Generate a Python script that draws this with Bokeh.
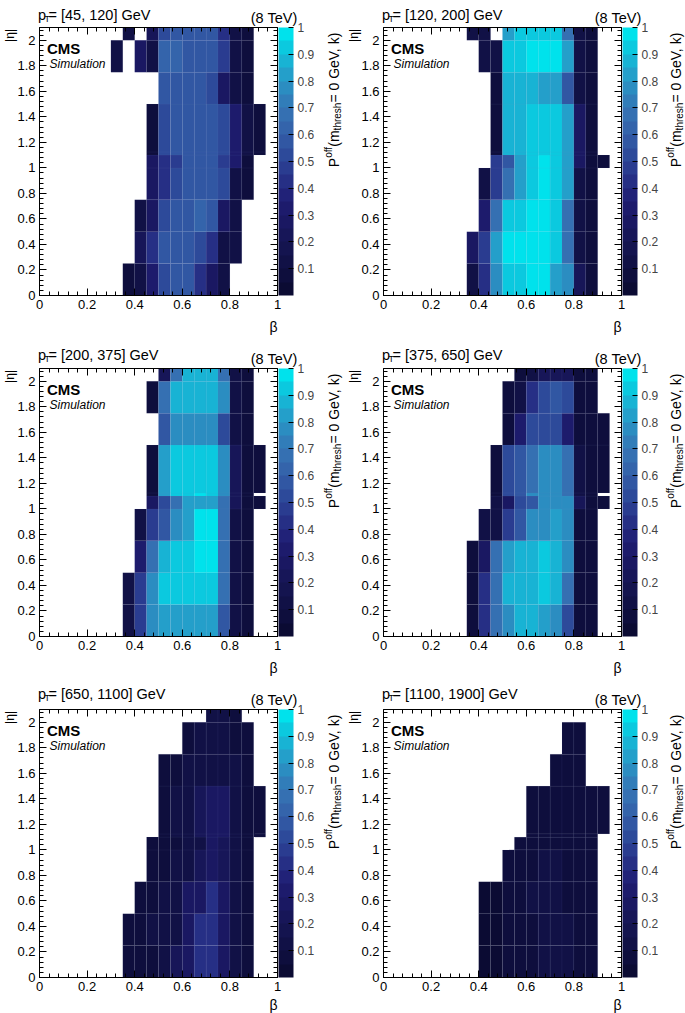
import math
from bokeh.plotting import figure
from bokeh.models import LinearColorMapper, ColorBar, FixedTicker, LinearAxis, ColumnDataSource, Range1d
from bokeh.core.properties import value
from bokeh.layouts import column, row
from bokeh.embed import file_html
from bokeh.resources import INLINE

N = None
# ---------------- data ----------------
beta_edges = [0.30, 0.35, 0.40, 0.45, 0.50, 0.55, 0.60, 0.65, 0.70, 0.75, 0.80, 0.85, 0.90, 0.95]
eta_edges = [0.0, 0.25, 0.5, 0.75, 1.0, 1.1, 1.125, 1.5, 1.75, 2.0, 2.1]
pt_ranges = ["[45, 120]", "[120, 200]", "[200, 375]", "[375, 650]", "[650, 1100]", "[1100, 1900]"]

# rows: eta bins bottom -> top ; columns: beta bins 0.30 ... 0.90
p_45_120 = [
    [N, 0.05, 0.10, 0.35, 0.50, 0.55, 0.55, 0.40, 0.25, 0.10, N, N, N],
    [N, N, 0.20, 0.40, 0.55, 0.55, 0.60, 0.50, 0.40, 0.10, 0.10, N, N],
    [N, N, 0.10, 0.30, 0.50, 0.55, 0.55, 0.62, 0.55, 0.30, 0.10, N, N],
    [N, N, N, 0.25, 0.40, 0.50, 0.55, 0.55, 0.55, 0.50, 0.10, 0.05, N],
    [N, N, N, 0.30, 0.40, 0.45, 0.55, 0.55, 0.55, 0.45, 0.35, 0.05, N],
    [N, N, N, 0.05, 0.50, 0.55, 0.55, 0.55, 0.55, 0.50, 0.35, 0.10, 0.05],
    [N, N, N, 0.05, 0.50, 0.55, 0.55, 0.55, 0.55, 0.50, 0.35, 0.10, 0.05],
    [N, N, N, N, 0.55, 0.55, 0.55, 0.55, 0.50, 0.30, 0.10, 0.05, N],
    [0.10, N, 0.25, 0.15, 0.62, 0.62, 0.60, 0.55, 0.55, 0.45, 0.10, 0.05, N],
    [N, 0.10, N, 0.20, 0.50, 0.60, 0.55, 0.55, 0.55, 0.40, 0.10, 0.05, N],
]
p_120_200 = [
    [N, 0.10, 0.40, 0.75, 0.90, 0.90, 1.00, 1.00, 0.80, 0.75, 0.20, 0.05, N],
    [N, 0.25, 0.45, 0.80, 0.98, 0.98, 0.98, 0.98, 0.95, 0.70, 0.10, 0.05, N],
    [N, N, 0.35, 0.65, 0.90, 0.95, 0.98, 0.98, 0.95, 0.70, 0.10, 0.05, N],
    [N, N, 0.10, 0.45, 0.70, 0.80, 0.95, 0.98, 0.95, 0.80, 0.15, 0.05, N],
    [N, N, N, 0.45, 0.60, 0.80, 0.95, 0.98, 0.95, 0.80, 0.25, 0.05, 0.05],
    [N, N, N, 0.05, 0.85, 0.85, 0.90, 0.95, 0.90, 0.80, 0.30, 0.05, N],
    [N, N, N, 0.05, 0.85, 0.85, 0.95, 0.95, 0.90, 0.80, 0.25, 0.05, N],
    [N, N, N, 0.05, 0.85, 0.85, 0.85, 0.80, 0.80, 0.55, 0.15, 0.05, N],
    [N, N, 0.10, 0.10, 0.95, 0.95, 1.00, 1.00, 1.00, 0.80, 0.10, 0.05, N],
    [N, 0.10, 0.10, N, 0.80, 0.95, 0.95, 0.95, 0.90, 0.70, 0.10, 0.05, N],
]
p_200_375 = [
    [N, 0.10, 0.45, 0.75, 0.80, 0.80, 0.80, 0.80, 0.80, 0.55, 0.10, 0.05, N],
    [N, 0.10, 0.45, 0.75, 0.95, 0.95, 0.95, 0.95, 0.95, 0.65, 0.10, 0.05, N],
    [N, N, 0.35, 0.65, 0.85, 0.95, 0.95, 0.98, 0.98, 0.65, 0.10, 0.05, N],
    [N, N, 0.10, 0.45, 0.60, 0.75, 0.80, 0.98, 0.98, 0.65, 0.10, 0.05, N],
    [N, N, N, 0.30, 0.50, 0.70, 0.80, 0.80, 0.80, 0.70, 0.20, 0.05, 0.05],
    [N, N, N, 0.05, 0.80, 0.90, 0.90, 1.00, 0.90, 0.75, 0.20, 0.05, N],
    [N, N, N, 0.05, 0.80, 0.90, 0.90, 0.90, 0.90, 0.75, 0.20, 0.05, 0.05],
    [N, N, N, N, 0.55, 0.75, 0.75, 0.75, 0.75, 0.50, 0.10, 0.05, N],
    [N, N, N, 0.05, 0.70, 0.85, 0.85, 0.85, 0.85, 0.75, 0.10, 0.05, N],
    [N, N, N, N, 0.20, 0.70, 0.85, 0.85, 0.85, 0.70, 0.10, 0.05, N],
]
p_375_650 = [
    [N, 0.05, 0.40, 0.65, 0.75, 0.85, 0.85, 0.80, 0.75, 0.50, 0.05, 0.05, N],
    [N, 0.05, 0.40, 0.70, 0.85, 0.85, 0.85, 0.90, 0.85, 0.65, 0.05, 0.05, N],
    [N, 0.05, 0.25, 0.65, 0.80, 0.85, 0.85, 0.90, 0.85, 0.75, 0.05, 0.05, N],
    [N, N, 0.10, 0.15, 0.45, 0.60, 0.75, 0.75, 0.80, 0.75, 0.05, 0.05, N],
    [N, N, N, 0.10, 0.25, 0.50, 0.60, 0.75, 0.75, 0.75, 0.20, 0.05, 0.05],
    [N, N, N, 0.05, 0.50, 0.60, 0.75, 0.75, 0.75, 0.70, 0.15, 0.05, N],
    [N, N, N, 0.05, 0.50, 0.60, 0.70, 0.75, 0.75, 0.70, 0.15, 0.05, 0.05],
    [N, N, N, N, 0.05, 0.35, 0.50, 0.50, 0.50, 0.35, 0.05, 0.05, 0.05],
    [N, N, N, N, 0.05, 0.15, 0.40, 0.50, 0.55, 0.50, 0.05, 0.05, N],
    [N, N, N, N, N, 0.05, 0.10, 0.20, 0.20, 0.20, 0.05, 0.05, N],
]
p_650_1100 = [
    [N, 0.05, 0.05, 0.08, 0.15, 0.20, 0.30, 0.40, 0.40, 0.25, 0.10, 0.05, N],
    [N, 0.05, 0.05, 0.10, 0.15, 0.15, 0.30, 0.40, 0.40, 0.30, 0.10, 0.05, N],
    [N, N, 0.05, 0.05, 0.10, 0.15, 0.25, 0.30, 0.40, 0.30, 0.10, 0.05, N],
    [N, N, N, 0.05, 0.05, 0.10, 0.15, 0.20, 0.30, 0.20, 0.10, 0.05, N],
    [N, N, N, 0.05, 0.05, 0.05, 0.10, 0.15, 0.25, 0.20, 0.10, 0.05, N],
    [N, N, N, N, 0.05, 0.10, 0.10, 0.20, 0.30, 0.25, 0.10, 0.05, 0.05],
    [N, N, N, N, 0.05, 0.10, 0.10, 0.20, 0.30, 0.25, 0.10, 0.05, 0.05],
    [N, N, N, N, 0.05, 0.05, 0.10, 0.15, 0.15, 0.15, 0.10, 0.05, N],
    [N, N, N, N, N, N, 0.05, 0.10, 0.10, 0.10, 0.05, 0.05, N],
    [N, N, N, N, N, N, N, N, 0.10, 0.10, 0.05, N, N],
]
p_1100_1900 = [
    [N, N, 0.03, 0.03, 0.05, 0.07, 0.08, 0.10, 0.12, 0.10, 0.07, 0.05, N],
    [N, N, 0.03, 0.03, 0.05, 0.07, 0.08, 0.10, 0.12, 0.10, 0.07, 0.05, N],
    [N, N, 0.03, 0.03, 0.05, 0.07, 0.10, 0.10, 0.10, 0.08, 0.07, 0.05, N],
    [N, N, N, N, 0.05, 0.07, 0.08, 0.10, 0.10, 0.08, 0.07, 0.05, N],
    [N, N, N, N, N, 0.05, 0.07, 0.08, 0.08, 0.07, 0.05, 0.05, N],
    [N, N, N, N, N, N, 0.05, 0.07, 0.07, 0.07, 0.05, 0.05, N],
    [N, N, N, N, N, N, 0.05, 0.07, 0.07, 0.07, 0.05, 0.05, 0.05],
    [N, N, N, N, N, N, N, N, 0.05, 0.05, 0.05, N, N],
    [N, N, N, N, N, N, N, N, N, 0.05, 0.05, N, N],
    [N, N, N, N, N, N, N, N, N, N, N, N, N],
]
panels = [p_45_120, p_120_200, p_200_375, p_375_650, p_650_1100, p_1100_1900]

beta_ticks = [0, 0.2, 0.4, 0.6, 0.8, 1]
beta_tick_labels = ["0", "0.2", "0.4", "0.6", "0.8", "1"]
eta_ticks = [0, 0.2, 0.4, 0.6, 0.8, 1, 1.2, 1.4, 1.6, 1.8, 2]
eta_tick_labels = ["0", "0.2", "0.4", "0.6", "0.8", "1", "1.2", "1.4", "1.6", "1.8", "2"]
z_ticks = [0.1, 0.2, 0.3, 0.4, 0.5, 0.6, 0.7, 0.8, 0.9, 1]
z_tick_labels = ["0.1", "0.2", "0.3", "0.4", "0.5", "0.6", "0.7", "0.8", "0.9", "1"]
beta_minor = [i * 0.04 for i in range(26)]
eta_minor = [i * 0.04 for i in range(53)]

# ---------------- style ----------------
PALETTE = ["#0b0b33", "#0e0e3d", "#111146", "#14144f", "#171658", "#1a1862", "#1d1b6c",
           "#212278", "#262f85", "#2a3c90", "#2d4a9a", "#3157a3", "#3464ab", "#3570b2",
           "#317db9", "#2b8dc1", "#249fca", "#18b3d4", "#0bc9df", "#00e2ec"]
FONT = "Liberation Sans"
FRAME_W, FRAME_H = 238, 268          # pixel size of the data box
BL, BT = 39, 27                      # data box offset inside each figure
COL_W = [344, 341]
ROW_H = [341, 341, 331]
TITLE_UP = [13, 14, 16]              # title baseline above the data box, per row
BETA_DOWN = [31.5, 31.5, 27.5]       # beta label baseline below the data box, per row
PX_X = 1.0 / FRAME_W                 # data units per pixel
PX_Y = 2.1 / FRAME_H

AW = {"p": 556, "T": 611, " ": 278, "=": 584, "[": 278, "]": 278, ",": 278, "G": 778, "e": 556,
      "V": 667, "P": 667, "o": 556, "f": 278, "(": 333, ")": 333, "m": 833, "t": 278, "h": 556,
      "r": 333, "s": 500, "k": 500}
for d in "0123456789":
    AW[d] = 556


def tw(s, size):
    return sum(AW.get(c, 556) for c in s) * size / 1000.0


def txt(p, xpx, ypx, s, size, align="left", angle=0.0, style="normal"):
    # position given in pixels relative to the data box's bottom-left corner
    p.text(x=[xpx * PX_X], y=[ypx * PX_Y], text=[s], text_font=value(FONT),
           text_font_size=value(f"{size}px"), text_font_style=style, text_align=align,
           text_baseline="alphabetic", angle=angle, text_color="black")


def make_panel(idx):
    vals = panels[idx]
    r, c = divmod(idx, 2)
    W, H = COL_W[c], ROW_H[r]
    BB = H - BT - FRAME_H
    p = figure(width=W, height=H, output_backend="svg", toolbar_location=None,
               x_range=Range1d(-BL * PX_X, (W - BL) * PX_X),
               y_range=Range1d(-BB * PX_Y, 2.1 + BT * PX_Y),
               min_border=0, min_border_left=0, min_border_right=0,
               min_border_top=0, min_border_bottom=0)
    p.xgrid.visible = False
    p.ygrid.visible = False
    p.outline_line_color = None
    p.background_fill_color = "white"
    p.border_fill_color = "white"

    mapper = LinearColorMapper(palette=PALETTE, low=0, high=1)
    L, R, B, T, Z = [], [], [], [], []
    for i, rowv in enumerate(vals):
        for j, v in enumerate(rowv):
            if v is None:
                continue
            L.append(beta_edges[j]); R.append(beta_edges[j + 1])
            B.append(eta_edges[i]); T.append(eta_edges[i + 1]); Z.append(v)
    src = ColumnDataSource(dict(left=L, right=R, bottom=B, top=T, z=Z))
    p.quad(left="left", right="right", bottom="bottom", top="top", source=src,
           fill_color={"field": "z", "transform": mapper}, line_color="#8a96c8",
           line_alpha=0.1, line_width=0.6)

    bottom_ax = p.below[0]
    left_ax = p.left[0]
    top_ax = LinearAxis()
    right_ax = LinearAxis()
    p.add_layout(top_ax, "above")
    p.add_layout(right_ax, "right")
    bottom_ax.fixed_location = 0
    top_ax.fixed_location = 2.1
    left_ax.fixed_location = 0
    right_ax.fixed_location = 1
    for ax in (bottom_ax, top_ax):
        ax.bounds = (0, 1)
        ax.ticker = FixedTicker(ticks=beta_ticks, minor_ticks=beta_minor)
        ax.major_label_overrides = {t: s for t, s in zip(beta_ticks, beta_tick_labels)}
    for ax in (left_ax, right_ax):
        ax.bounds = (0, 2.1)
        ax.ticker = FixedTicker(ticks=eta_ticks, minor_ticks=eta_minor)
        ax.major_label_overrides = {t: s for t, s in zip(eta_ticks, eta_tick_labels)}
    for ax in (bottom_ax, top_ax, left_ax, right_ax):
        ax.major_tick_in = 7
        ax.major_tick_out = 0
        ax.minor_tick_in = 4
        ax.minor_tick_out = 0
        ax.axis_line_color = "black"
        ax.major_tick_line_color = "black"
        ax.minor_tick_line_color = "black"
        ax.major_label_text_font = FONT
        ax.major_label_text_font_size = "13px"
        ax.major_label_text_color = "black"
        ax.major_label_standoff = 4
    for ax in (top_ax, right_ax):
        ax.major_label_text_color = None

    cb = ColorBar(color_mapper=mapper, ticker=FixedTicker(ticks=z_ticks),
                  major_label_overrides={t: s for t, s in zip(z_ticks, z_tick_labels)},
                  width=15, height=FRAME_H, padding=0, margin=0,
                  location=(BL + FRAME_W + 1, BB),
                  major_tick_in=5, major_tick_out=0,
                  major_tick_line_color="black", minor_tick_line_color=None,
                  bar_line_color=None, border_line_color=None, background_fill_alpha=0,
                  major_label_text_font=FONT, major_label_text_font_size="12px",
                  label_standoff=4)
    p.add_layout(cb)

    # titles (pixels relative to the data box)
    ty = FRAME_H + TITLE_UP[r]
    ey = FRAME_H + 10
    x0 = -1.5
    txt(p, x0, ty, "p", 14.5)
    txt(p, x0 + 6.5, ty - 4.5, "T", 9)
    txt(p, x0 + 10.5, ty, " = " + pt_ranges[idx] + " GeV", 14.5)
    txt(p, FRAME_W + 20, ey, "(8 TeV)", 14.5, align="right")
    txt(p, 7.5, FRAME_H - 21, "CMS", 15, style="bold")
    txt(p, 10, FRAME_H - 36, "Simulation", 12, style="italic")
    txt(p, FRAME_W, -BETA_DOWN[r], "\u03b2", 14, align="right")
    txt(p, -29.5, FRAME_H - 1.5, "|\u03b7|", 12, align="right", angle=math.pi / 2)

    # colour bar title: P^off(m_thresh = 0 GeV, k), rotated
    base = FRAME_W + (56 if c == 0 else 54)
    pieces = [("P", 14, 0), ("off", 10, -5.5), ("(m", 14, 0), ("thresh", 10, 3.5), (" = 0 GeV, k)", 14, 0)]
    total = sum(tw(s, f) for s, f, _ in pieces)
    yo = FRAME_H - total
    for s, f, dx in pieces:
        txt(p, base + dx, yo, s, f, angle=math.pi / 2)
        yo += tw(s, f)
    return p


figs = [make_panel(i) for i in range(6)]
layout = column(row(figs[0], figs[1]), row(figs[2], figs[3]), row(figs[4], figs[5]))
open("out.html", "w").write(file_html(layout, INLINE))
